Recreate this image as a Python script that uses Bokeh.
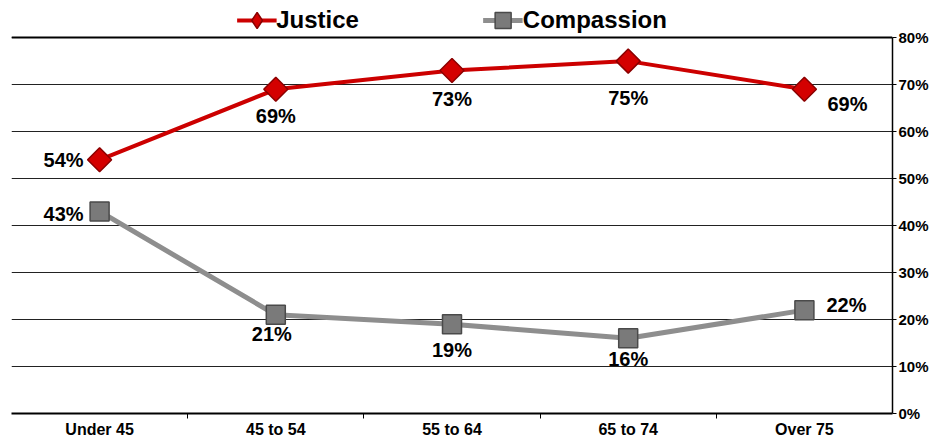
import numpy as np
from bokeh.plotting import figure
from bokeh.models import (Range1d, FixedTicker, PrintfTickFormatter, Legend, LegendItem,
                          ColumnDataSource, Grid)
from bokeh.core.properties import value
from bokeh.embed import file_html
from bokeh.resources import INLINE

categories = ["Under 45", "45 to 54", "55 to 64", "65 to 74", "Over 75"]
justice = [54, 69, 73, 75, 69]
compassion = [43, 21, 19, 16, 22]
y_ticks = [0, 10, 20, 30, 40, 50, 60, 70, 80]

# label placement (screen pixel offsets, style only)
j_xoff = [-16, 0, 0, 0, 23]
j_yoff = [0, 27, 28, 37, 15]
j_align = ["right", "center", "center", "center", "left"]
c_xoff = [-16, -4, 0, 0, 22]
c_yoff = [3, 19, 26, 21, -5]
c_align = ["right", "center", "center", "center", "left"]

xs = np.arange(len(categories)) + 0.5
FONT = "Liberation Sans"
Y_TOP = 87.9  # headroom above 80% for the legend

p = figure(width=942, height=440, output_backend="svg", toolbar_location=None,
           x_range=Range1d(0, len(categories)), y_range=Range1d(0, Y_TOP),
           y_axis_location="right", min_border_left=11, min_border_right=50,
           min_border_top=0, min_border_bottom=27)
p.outline_line_color = None
p.background_fill_color = "white"
p.border_fill_color = "white"

# y axis (right)
p.yaxis.ticker = FixedTicker(ticks=y_ticks)
p.yaxis.bounds = (0, 80)
p.yaxis.formatter = PrintfTickFormatter(format="%d%%")
p.yaxis.major_tick_in = 0
p.yaxis.major_tick_out = 4
p.yaxis.minor_tick_line_color = None
p.yaxis.axis_line_color = "black"
p.yaxis.axis_line_width = 1.5
p.yaxis.major_tick_line_color = "black"
p.yaxis.major_label_text_font = FONT
p.yaxis.major_label_text_font_style = "bold"
p.yaxis.major_label_text_font_size = "15px"
p.yaxis.major_label_text_color = "black"
p.yaxis.major_label_standoff = 2

# x axis
p.xaxis.ticker = FixedTicker(ticks=list(xs), minor_ticks=list(np.arange(1, len(categories))))
p.xaxis.major_label_overrides = {float(x): c for x, c in zip(xs, categories)}
p.xaxis.major_tick_line_color = None
p.xaxis.minor_tick_in = 0
p.xaxis.minor_tick_out = 5
p.xaxis.minor_tick_line_color = "black"
p.xaxis.axis_line_color = "black"
p.xaxis.axis_line_width = 2
p.xaxis.major_label_text_font = FONT
p.xaxis.major_label_text_font_style = "bold"
p.xaxis.major_label_text_font_size = "16px"
p.xaxis.major_label_text_color = "black"
p.xaxis.major_label_standoff = 1

# grids
p.ygrid.ticker = FixedTicker(ticks=y_ticks[1:])
p.ygrid.grid_line_color = "#222222"
p.ygrid.grid_line_width = 1
p.xgrid.ticker = FixedTicker(ticks=[0])
p.xgrid.bounds = (0, 80)
p.xgrid.grid_line_color = "#999999"
p.xgrid.grid_line_width = 2
top = Grid(dimension=1, ticker=FixedTicker(ticks=[80]), grid_line_color="black", grid_line_width=2)
p.add_layout(top)

# series
jl = p.line(xs, justice, line_color="#CC0000", line_width=4)
jm = p.scatter(xs, justice, marker="square", size=17, angle=np.pi / 4,
               fill_color="#D40000", line_color="#8B0000", line_width=1.5)
cl = p.line(xs, compassion, line_color="#8E8E8E", line_width=5)
cm = p.scatter(xs, compassion, marker="square", size=19,
               fill_color="#7A7A7A", line_color="#4A4A4A", line_width=1.5)

# legend-only glyphs (hidden point: NaN value, nothing drawn in the plot)
nan_x = xs[:1]
nan_y = np.array([np.nan])
lj_line = p.line(x=nan_x, y=nan_y, line_color="#CC0000", line_width=4)
lj_mark = p.scatter(x=nan_x, y=nan_y, marker="diamond", fill_color="#D40000",
                    line_color="#8B0000", line_width=1.5)
lc_line = p.line(x=nan_x, y=nan_y, line_color="#8E8E8E", line_width=5)
lc_mark = p.scatter(x=nan_x, y=nan_y, marker="square", fill_color="#7A7A7A",
                    line_color="#4A4A4A", line_width=1.5)

js = ColumnDataSource(dict(x=xs, y=justice, t=[f"{v}%" for v in justice],
                           xo=j_xoff, yo=j_yoff, al=j_align))
cs = ColumnDataSource(dict(x=xs, y=compassion, t=[f"{v}%" for v in compassion],
                           xo=c_xoff, yo=c_yoff, al=c_align))
for src in (js, cs):
    p.text(x="x", y="y", text="t", source=src, x_offset="xo", y_offset="yo",
           text_align="al", text_baseline="middle", text_font=value(FONT),
           text_font_style="bold", text_font_size="20px", text_color="black")

legend = Legend(items=[LegendItem(label="Justice", renderers=[lj_line, lj_mark]),
                       LegendItem(label="Compassion", renderers=[lc_line, lc_mark])],
                orientation="horizontal", location="top_center",
                label_text_font=FONT, label_text_font_style="bold",
                label_text_font_size="24px", label_text_color="black",
                glyph_width=40, glyph_height=40, label_standoff=0, spacing=124,
                padding=2, margin=0, border_line_color=None,
                background_fill_alpha=0)
p.add_layout(legend, "center")

open("out.html", "w").write(file_html(p, INLINE))
